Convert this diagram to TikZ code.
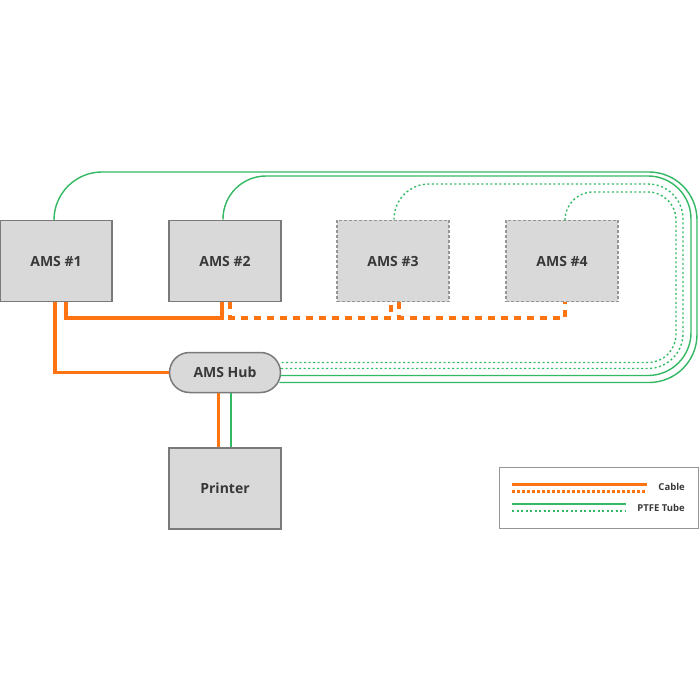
\documentclass[tikz,border=0pt]{standalone}
\usepackage{fontspec}
\setmainfont{Open Sans}
\usetikzlibrary{positioning, shapes.misc}

\definecolor{cableorange}{HTML}{FF7410}
\definecolor{tubegreen}{HTML}{33B864}
\definecolor{boxfill}{HTML}{D9D9D9}
\definecolor{boxline}{HTML}{7A7A7A}
\definecolor{txtgray}{HTML}{383838}

\begin{document}
\begin{tikzpicture}[
  x=1pt, y=-1pt,
  font=\fontsize{14}{16}\selectfont\bfseries,
  ams/.style={rectangle, draw=boxline, line width=1.5pt, fill=boxfill, text=txtgray, minimum width=112pt, minimum height=81pt, inner sep=0pt},
  amsopt/.style={ams, draw=boxline!80, dash pattern=on 3pt off 2pt},
  hubbox/.style={rounded rectangle, draw=boxline, line width=1.5pt, fill=boxfill, text=txtgray, minimum width=111pt, minimum height=40pt, inner sep=0pt},
  cable/.style={draw=cableorange, line width=3.5pt},
  cableopt/.style={cable, dash pattern=on 7pt off 6pt},
  tube/.style={draw=tubegreen, line width=1.4pt},
  tubeopt/.style={tube, dash pattern=on 2pt off 2.5pt},
  legtext/.style={font=\fontsize{9.5}{11}\selectfont\bfseries, text=txtgray, inner sep=0pt},
  node distance=55.5pt and 55.5pt
]
  \useasboundingbox (0,0) rectangle (700,700);

  \node[ams] (a1) at (56,261) {AMS \#1};
  \node[ams, right=of a1] (a2) {AMS \#2};
  \node[amsopt, right=54.5pt of a2] (a3) {AMS \#3};
  \node[amsopt, right=of a3] (a4) {AMS \#4};

  \node[hubbox, below=49.5pt of a2] (hub) {AMS Hub};
  \node[ams, below=54pt of hub] (pr) {Printer};

  % PTFE tubes (drawn first, under the cables)
  \draw[tube, rounded corners=48pt] ([xshift=-2pt]a1.north) |- (697,172) |- ([xshift=-2pt,yshift=-10pt]hub.east);
  \draw[tube, rounded corners=43pt] ([xshift=-2pt]a2.north) |- (691,176) |- ([xshift=-1pt,yshift=-3pt]hub.east);
  \draw[tubeopt, rounded corners=35pt] ([xshift=1pt]a3.north) |- (683,184) |- ([xshift=-1pt,yshift=4pt]hub.east);
  \draw[tubeopt, rounded corners=28pt] ([xshift=3pt]a4.north) |- (676,192) |- ([xshift=-2pt,yshift=10pt]hub.east);
  \draw[tube] ([xshift=6pt]hub.south) -- ([xshift=6pt]pr.north);

  % cables
  \draw[cable] ([xshift=-1pt]a1.south) |- (hub.west);
  \draw[cable] ([xshift=10pt]a1.south) -- ++(0,15.5) -| ([xshift=-3pt]a2.south);
  \draw[cableopt] ([xshift=5pt]a2.south) -- ++(0,15.5) -| ([xshift=-2pt]a3.south);
  \draw[cableopt] ([xshift=6pt]a3.south) -- ++(0,15.5) -| ([xshift=3pt]a4.south);
  \draw[cable] ([xshift=-6.5pt]hub.south) -- ([xshift=-6.5pt]pr.north);

  % legend
  \node[draw=boxline!80, line width=0.8pt, minimum width=199pt, minimum height=61pt] (leg) at (598.5,497.5) {};
  \node[legtext, anchor=east] (lcab) at (685,487) {Cable};
  \node[legtext, anchor=east] (lptfe) at (685,508) {PTFE Tube};
  \coordinate (c1) at (512,484);
  \coordinate (c2) at (512,491);
  \coordinate (t1) at (512,504);
  \coordinate (t2) at (512,511);
  \draw[cable, line width=3pt] (c1) -- ++(135,0);
  \draw[cable, line width=3pt, dash pattern=on 2.5pt off 2.5pt] (c2) -- ++(135,0);
  \draw[tube] (t1) -- ++(114,0);
  \draw[tubeopt] (t2) -- ++(114,0);
\end{tikzpicture}
\end{document}
